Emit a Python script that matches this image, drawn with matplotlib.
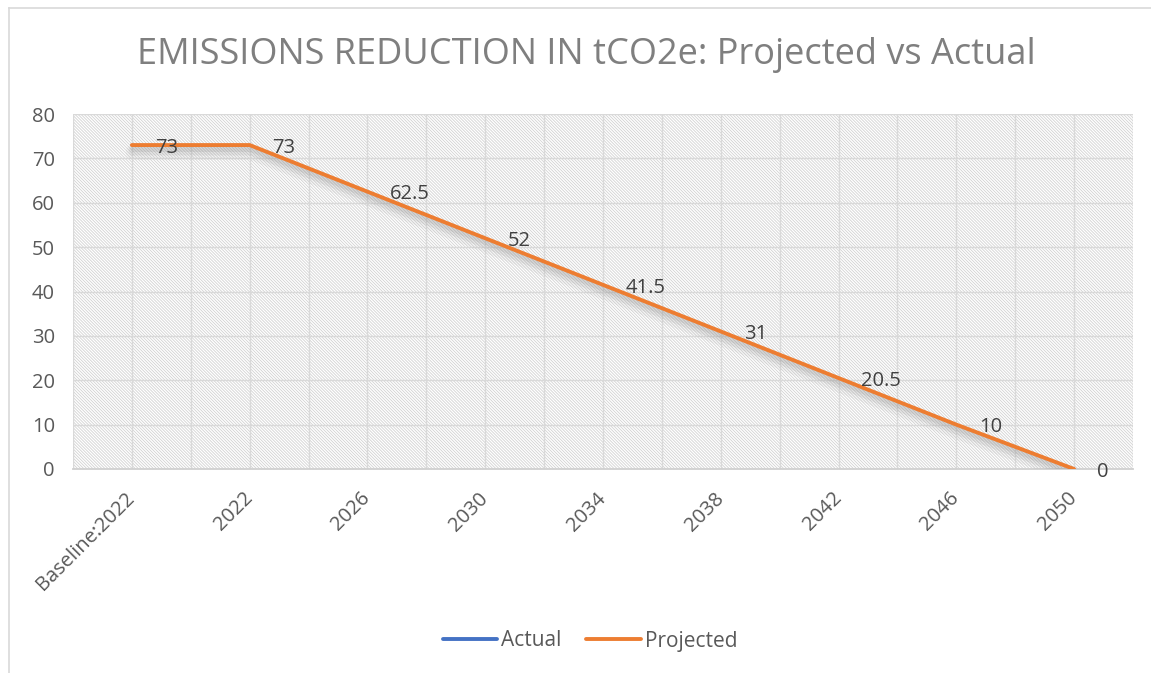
import matplotlib.pyplot as plt
import matplotlib.patheffects as pe
from matplotlib.patches import Rectangle
from matplotlib.lines import Line2D

plt.rcParams['font.family'] = ['Open Sans', 'DejaVu Sans']

# ---------- data ----------
categories = ['Baseline:2022', '2022', '2026', '2030', '2034', '2038', '2042', '2046', '2050']
projected = [73, 73, 62.5, 52, 41.5, 31, 20.5, 10, 0]
actual = []          # no actual values reported yet
y_ticks = [0, 10, 20, 30, 40, 50, 60, 70, 80]

# ---------- colours ----------
ORANGE = '#ED7D31'
BLUE = '#4472C4'
GRID = '#d9d9d9'
TXT = '#595959'
TITLE = '#7f7f7f'

fig = plt.figure(figsize=(11.51, 6.73), dpi=100, facecolor='white')
ax = fig.add_axes([73 / 1151, 1 - 469 / 673, (1133 - 73) / 1151, (469 - 114) / 673])

# chart outer border (top + left visible)
fig.add_artist(Line2D([9 / 1151, 9 / 1151], [0, 1 - 8 / 673], transform=fig.transFigure,
                      color='#d9d9d9', lw=1.2))
fig.add_artist(Line2D([9 / 1151, 1], [1 - 8 / 673, 1 - 8 / 673], transform=fig.transFigure,
                      color='#d9d9d9', lw=1.2))

# hatched plot area
ax.set_facecolor('white')
plt.rcParams['hatch.linewidth'] = 0.6
ax.add_patch(Rectangle((0, 0), 1, 1, transform=ax.transAxes, facecolor='white',
                       edgecolor='#d2d2d2', linewidth=0, hatch='\\' * 11, zorder=0))

x = list(range(len(categories)))
ax.set_xlim(-0.5, len(categories) - 0.5)
ax.set_ylim(0, 80)

# grid
for gx in [i * 0.5 - 0.5 for i in range(2 * len(categories) + 1)]:
    ax.axvline(gx, color=GRID, lw=1.0, zorder=1)
for gy in y_ticks[1:]:
    ax.axhline(gy, color=GRID, lw=1.0, zorder=1)

for s in ['top', 'left', 'right']:
    ax.spines[s].set_visible(False)
ax.spines['bottom'].set_color('#d0d0d0')
ax.spines['bottom'].set_linewidth(1.3)
ax.spines['bottom'].set_zorder(2)

# series
ax.plot(actual, actual, color=BLUE, lw=2.8)
ax.plot(x, projected, color=ORANGE, lw=2.8, zorder=4, solid_capstyle='round',
        path_effects=[pe.SimpleLineShadow(offset=(1, -5), shadow_color='#a0a0a0', alpha=0.10, linewidth=11),
                      pe.SimpleLineShadow(offset=(1, -4), shadow_color='#909090', alpha=0.15, linewidth=7),
                      pe.SimpleLineShadow(offset=(1, -3), shadow_color='#808080', alpha=0.15, linewidth=4),
                      pe.Normal()])

# data labels
for xi, v in zip(x, projected):
    ax.annotate(f'{v:g}', (xi, v), xytext=(16.5, -2), textcoords='offset points',
                ha='left', va='center', fontsize=14.5, color='#404040', zorder=5)

# ticks
ax.set_yticks(y_ticks)
ax.set_yticklabels([str(t) for t in y_ticks])
ax.tick_params(axis='y', length=0, pad=13, labelsize=14.5, labelcolor=TXT)
ax.set_xticks(x)
ax.set_xticklabels(categories, rotation=45, ha='right', va='center', rotation_mode='anchor')
ax.tick_params(axis='x', length=0, pad=19, labelsize=14.5, labelcolor=TXT)

# title
fig.text(586 / 1151, 1 - 55 / 673, 'EMISSIONS REDUCTION IN tCO2e: Projected vs Actual',
         ha='center', va='center', fontsize=26, color=TITLE)

# legend (plain handles, no shadow)
handles = [Line2D([], [], color=BLUE, lw=2.8, solid_capstyle='round'),
           Line2D([], [], color=ORANGE, lw=2.8, solid_capstyle='round')]
fig.legend(handles, ['Actual', 'Projected'], loc='center',
           bbox_to_anchor=(590 / 1151, 1 - 641 / 673), ncol=2, frameon=False,
           fontsize=15, handlelength=2.6, handletextpad=0.2, columnspacing=1.2,
           labelcolor=TXT)

fig.savefig('out.png', dpi=100, facecolor='white')
